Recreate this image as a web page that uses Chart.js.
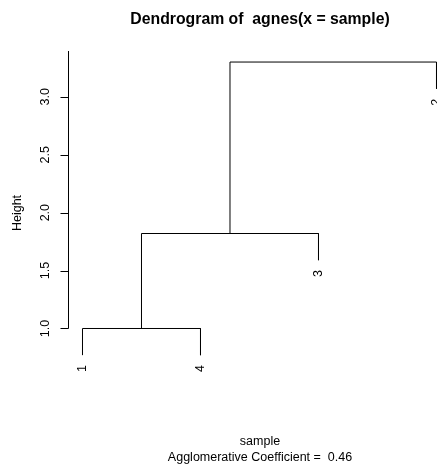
<!DOCTYPE html>
<html>
<head>
<meta charset="utf-8">
<script src="https://cdn.jsdelivr.net/npm/chart.js@4/dist/chart.umd.min.js"></script>
<style>
  html, body { margin: 0; padding: 0; background: #fff; overflow: hidden; }
  #wrap { width: 437px; height: 466px; }
</style>
</head>
<body>
<div id="wrap"><canvas id="dendro" width="437" height="466"></canvas></div>
<script>
// leaves in plotting order, left to right
var leafLabels = ["1", "4", "3", "2"];
var leafPos = [1, 2, 3, 4];
// merge steps: each joins two nodes (leaf index as "L<n>", earlier merge as "M<n>")
var mergeLeft = ["L0", "M0", "M1"];
var mergeRight = ["L1", "L2", "L3"];
var mergeHeight = [1.00, 1.82, 3.30];
var yTicks = [1.0, 1.5, 2.0, 2.5, 3.0];
var coefficient = 0.46;

var hang = 0.1 * (Math.max.apply(null, mergeHeight) - Math.min.apply(null, mergeHeight));

function isLeaf(id) { return id[0] === "L"; }
function idx(id) { return +id.slice(1); }

// x of each merge is the midpoint of its two children
var mergeX = [];
var leafBottom = [];
var segments = [];
for (var i = 0; i < mergeHeight.length; i++) {
  var a = mergeLeft[i], b = mergeRight[i];
  var xl = isLeaf(a) ? leafPos[idx(a)] : mergeX[idx(a)];
  var xr = isLeaf(b) ? leafPos[idx(b)] : mergeX[idx(b)];
  var yl = isLeaf(a) ? mergeHeight[i] - hang : mergeHeight[idx(a)];
  var yr = isLeaf(b) ? mergeHeight[i] - hang : mergeHeight[idx(b)];
  if (isLeaf(a)) leafBottom[idx(a)] = yl;
  if (isLeaf(b)) leafBottom[idx(b)] = yr;
  mergeX.push((xl + xr) / 2);
  segments.push([
    { x: xl, y: yl },
    { x: xl, y: mergeHeight[i] },
    { x: xr, y: mergeHeight[i] },
    { x: xr, y: yr }
  ]);
}

var datasets = segments.map(function (pts) {
  return {
    data: pts,
    showLine: true,
    borderColor: "#000",
    borderWidth: 1,
    pointRadius: 0,
    tension: 0,
    fill: false,
    clip: false
  };
});

var font = "'Liberation Sans', Arial, Helvetica, sans-serif";

var annotate = {
  id: "annotate",
  afterDraw: function (chart) {
    var ctx = chart.ctx;
    var xs = chart.scales.x, ys = chart.scales.y;
    var left = chart.chartArea.left + 0.5;
    ctx.save();
    ctx.fillStyle = "#000";
    ctx.strokeStyle = "#000";
    ctx.lineWidth = 1;

    // y axis line from the first tick up to the top of the plot, plus tick marks
    ctx.beginPath();
    ctx.moveTo(left, Math.round(ys.getPixelForValue(yTicks[0])) + 0.5);
    ctx.lineTo(left, chart.chartArea.top);
    yTicks.forEach(function (t) {
      var py = Math.round(ys.getPixelForValue(t)) + 0.5;
      ctx.moveTo(left, py);
      ctx.lineTo(left - 8, py);
    });
    ctx.stroke();

    // rotated tick labels
    ctx.font = "12.5px " + font;
    ctx.textAlign = "center";
    ctx.textBaseline = "middle";
    yTicks.forEach(function (t) {
      ctx.save();
      ctx.translate(46, ys.getPixelForValue(t));
      ctx.rotate(-Math.PI / 2);
      ctx.fillText(t.toFixed(1), 0, 0);
      ctx.restore();
    });

    // leaf labels hanging under each leaf
    ctx.textAlign = "right";
    leafLabels.forEach(function (lab, k) {
      ctx.save();
      ctx.translate(xs.getPixelForValue(leafPos[k]), ys.getPixelForValue(leafBottom[k]) + 10);
      ctx.rotate(-Math.PI / 2);
      ctx.fillText(lab, 0, 0);
      ctx.restore();
    });

    // y axis title
    ctx.textAlign = "center";
    ctx.save();
    ctx.translate(18, 213);
    ctx.rotate(-Math.PI / 2);
    ctx.fillText("Height", 0, 0);
    ctx.restore();

    // title and x labels
    ctx.font = "bold 15.8px " + font;
    ctx.fillText("Dendrogram of  agnes(x = sample)", 260, 20);
    ctx.font = "12.5px " + font;
    ctx.fillText("sample", 260, 442);
    ctx.fillText("Agglomerative Coefficient =  " + coefficient.toFixed(2), 260, 458);
    ctx.restore();
  }
};

new Chart(document.getElementById("dendro").getContext("2d"), {
  type: "scatter",
  data: { datasets: datasets },
  options: {
    responsive: false,
    animation: false,
    events: [],
    layout: { padding: { top: 51, bottom: 100, left: 0, right: 0 } },
    plugins: { legend: { display: false }, tooltip: { enabled: false }, title: { display: false } },
    scales: {
      x: {
        type: "linear",
        display: false,
        min: 0.87712,
        max: 4.00424
      },
      y: {
        type: "linear",
        min: 0.6763,
        max: 3.3953,
        afterFit: function (scale) { scale.width = 68; },
        ticks: { display: false },
        border: { display: false },
        grid: { display: false }
      }
    }
  },
  plugins: [annotate]
});
</script>
</body>
</html>
